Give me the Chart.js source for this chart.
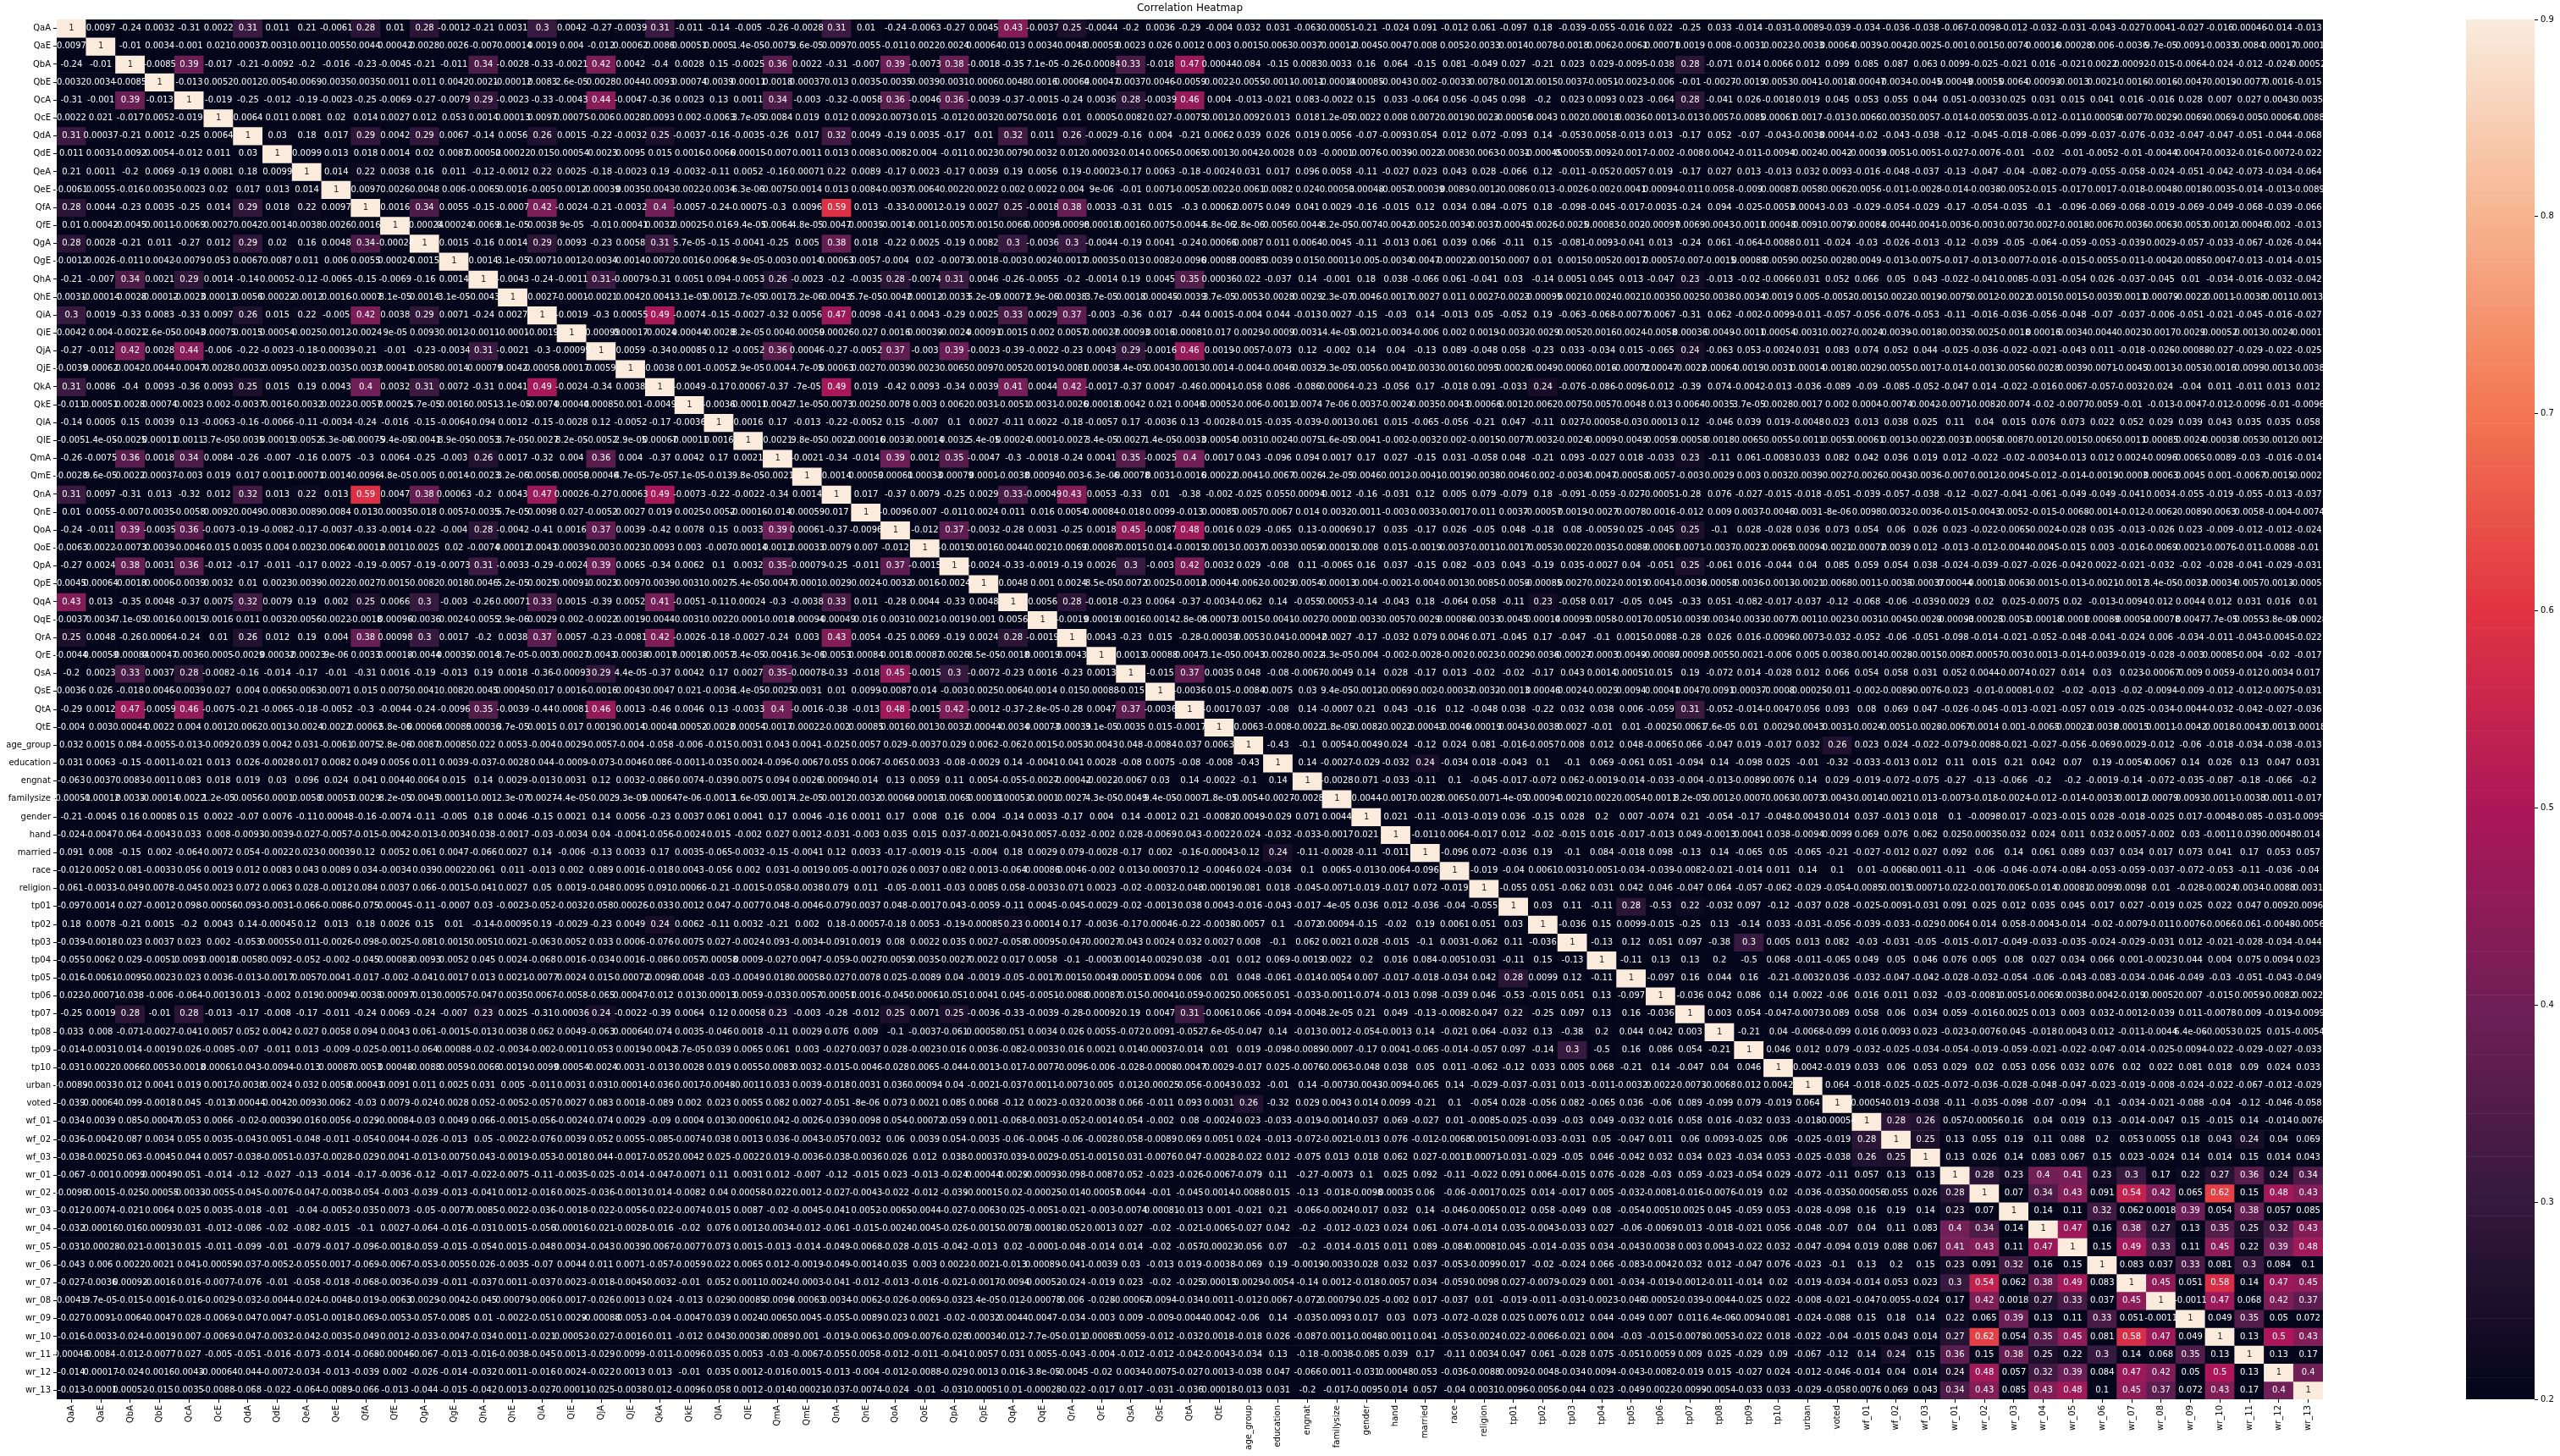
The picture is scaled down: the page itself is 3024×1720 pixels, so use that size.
<!DOCTYPE html>
<html>
<head>
<meta charset="utf-8">
<title>Correlation Heatmap</title>
<script src="https://cdn.jsdelivr.net/npm/chart.js@4"></script>
<style>
  html, body { margin: 0; background: #fff; }
  canvas { position: absolute; top: 0; display: block; }
  #heat { left: 0; }
  #cbar { left: 2900px; }
</style>
</head>
<body>
<canvas id="heat" width="3024" height="1720"></canvas>
<canvas id="cbar" width="124" height="1720"></canvas>
<script>
const questions = ["QaA","QaE","QbA","QbE","QcA","QcE","QdA","QdE","QeA","QeE","QfA","QfE","QgA","QgE","QhA","QhE","QiA","QiE","QjA","QjE","QkA","QkE","QlA","QlE","QmA","QmE","QnA","QnE","QoA","QoE","QpA","QpE","QqA","QqE","QrA","QrE","QsA","QsE","QtA","QtE"];
const demographics = ["age_group","education","engnat","familysize","gender","hand","married","race","religion"];
const tipi = ["tp01","tp02","tp03","tp04","tp05","tp06","tp07","tp08","tp09","tp10"];
const other = ["urban","voted"];
const wordsFake = ["wf_01","wf_02","wf_03"];
const wordsReal = ["wr_01","wr_02","wr_03","wr_04","wr_05","wr_06","wr_07","wr_08","wr_09","wr_10","wr_11","wr_12","wr_13"];
const labels = [...questions, ...demographics, ...tipi, ...other, ...wordsFake, ...wordsReal];

// upper triangle of the matrix, one array per row, starting right of the diagonal
const r00 = [0.0097,-0.24,0.0032,-0.31,0.0022,0.31,0.011,0.21,-0.0061,0.28,0.01,0.28,-0.0012,-0.21,0.0031,0.3,0.0042,
  -0.27,-0.0039,0.31,-0.011,-0.14,-0.005,-0.26,-0.0028,0.31,0.01,-0.24,-0.0063,-0.27,0.0045,0.43,-0.0037,0.25,-0.0044,-0.2,0.0036,-0.29,-0.004,
  0.032,0.031,-0.063,-0.00051,-0.21,-0.024,0.091,-0.012,0.061,-0.097,0.18,-0.039,-0.055,-0.016,0.022,-0.25,0.033,-0.014,-0.031,
  -0.0089,-0.039,-0.034,-0.036,-0.038,-0.067,-0.0098,-0.012,-0.032,-0.031,-0.043,-0.027,0.0041,-0.027,-0.016,0.00046,-0.014,-0.013];
const r01 = [-0.01,0.0034,-0.001,0.021,0.00037,0.0031,0.0011,0.0055,0.0044,0.00042,0.0028,0.0026,-0.007,-0.00014,0.0019,0.004,
  -0.012,0.00062,0.0086,0.00051,0.0005,1.4e-05,-0.0075,9.6e-05,0.0097,0.0055,-0.011,0.0022,0.0024,0.00064,0.013,0.0034,0.0048,0.00059,0.0023,0.026,0.0012,0.003,
  0.0015,0.0063,0.0037,-0.00012,-0.0045,-0.0047,0.008,0.0052,-0.0033,0.0014,0.0078,-0.0018,0.0062,-0.0061,-0.00071,0.0019,0.008,-0.0031,0.0022,
  -0.0033,0.00064,0.0039,-0.0042,-0.0025,-0.001,0.0015,0.0074,0.00016,-0.00028,0.006,-0.0036,9.7e-05,0.0091,-0.0033,0.0084,0.00017,-0.0001];
const r02 = [-0.0085,0.39,-0.017,-0.21,-0.0092,-0.2,-0.016,-0.23,-0.0045,-0.21,-0.011,0.34,-0.0028,-0.33,-0.0021,
  0.42,0.0042,-0.4,0.0028,0.15,-0.0025,0.36,0.0022,-0.31,-0.007,0.39,-0.0073,0.38,-0.0018,-0.35,7.1e-05,-0.26,-0.00084,0.33,-0.018,0.47,0.00044,
  0.084,-0.15,0.0083,0.0033,0.16,0.064,-0.15,0.081,-0.049,0.027,-0.21,0.023,0.029,-0.0095,-0.038,0.28,-0.071,0.014,0.0066,
  0.012,0.099,0.085,0.087,0.063,0.0099,-0.025,-0.021,0.016,-0.021,0.0022,0.00092,-0.015,-0.0064,-0.024,-0.012,-0.024,0.00052];
const r03 = [-0.013,0.0052,0.0012,0.0054,0.0069,0.0035,0.0035,0.0011,0.011,0.0042,0.0021,-0.00012,0.0083,2.6e-05,
  0.0028,0.0044,0.0093,0.00074,0.0039,0.00011,0.0018,0.00037,0.013,0.0035,-0.0035,0.0039,0.0031,0.0006,0.0048,0.0016,0.00064,0.00047,0.0037,0.0046,-0.0059,0.0022,
  -0.0055,-0.0011,-0.0011,-0.00014,0.00085,-0.0043,0.002,-0.0033,0.0078,-0.0012,0.0015,0.0037,-0.0051,-0.0023,-0.006,-0.01,-0.0027,-0.0019,0.0053,
  0.0041,-0.0018,-0.00047,0.0034,-0.0045,0.00049,-0.00055,0.0064,0.00093,-0.0013,0.0021,-0.0016,-0.0016,-0.0047,-0.0019,-0.0077,0.0016,-0.015];
const r04 = [-0.019,-0.25,-0.012,-0.19,-0.0023,-0.25,-0.0069,-0.27,-0.0079,0.29,-0.0023,-0.33,-0.0043,
  0.44,-0.0047,-0.36,0.0023,0.13,0.0011,0.34,-0.003,-0.32,-0.0058,0.36,-0.0046,0.36,-0.0039,-0.37,-0.0015,-0.24,0.0036,0.28,-0.0039,0.46,0.004,
  -0.013,-0.021,0.083,-0.0022,0.15,0.033,-0.064,0.056,-0.045,0.098,-0.2,0.023,0.0093,0.023,-0.064,0.28,-0.041,0.026,-0.0018,
  0.019,0.045,0.053,0.055,0.044,0.051,-0.0033,0.025,0.031,0.015,0.041,0.016,-0.016,0.028,0.007,0.027,0.0043,0.0035];
const r05 = [0.0064,0.011,0.0081,0.02,0.014,0.0027,0.012,0.053,0.0014,0.00013,0.0097,0.00075,
  -0.006,0.0028,0.0093,0.002,-0.0063,3.7e-05,0.0084,0.019,0.012,0.0092,-0.0073,0.015,-0.012,0.0032,0.0075,0.0016,0.01,0.0005,-0.0082,0.027,-0.0075,0.0012,
  -0.0092,0.013,0.018,1.2e-05,0.0022,0.008,0.0072,0.0019,0.0023,-0.00056,0.0043,0.002,0.00018,0.0036,-0.0013,-0.013,0.0057,-0.0085,0.00061,
  0.0017,-0.013,0.0066,0.0035,0.0057,-0.014,-0.0055,0.0035,-0.012,-0.011,-0.00059,-0.0077,-0.0029,-0.0069,-0.0069,-0.005,-0.00064,-0.0088];
const r06 = [0.03,0.18,0.017,0.29,0.0042,0.29,0.0067,-0.14,0.0056,0.26,0.0015,
  -0.22,-0.0032,0.25,-0.0037,-0.16,-0.0035,-0.26,0.017,0.32,0.0049,-0.19,0.0035,-0.17,0.01,0.32,0.011,0.26,-0.0029,-0.16,0.004,-0.21,0.0062,
  0.039,0.026,0.019,0.0056,-0.07,-0.0093,0.054,0.012,0.072,-0.093,0.14,-0.053,0.0058,-0.013,0.013,-0.17,0.052,-0.07,-0.043,
  -0.0038,0.00044,-0.02,-0.043,-0.038,-0.12,-0.045,-0.018,-0.086,-0.099,-0.037,-0.076,-0.032,-0.047,-0.047,-0.051,-0.044,-0.068];
const r07 = [0.0099,0.013,0.018,0.0014,0.02,0.0087,0.00052,0.00022,0.015,0.00054,
  -0.0023,0.0095,0.015,0.0016,-0.0066,0.00015,-0.007,0.0011,0.013,0.0083,-0.0082,0.004,-0.011,0.0023,0.0079,0.0032,0.012,0.00032,-0.014,0.0065,-0.0065,0.0013,
  0.0042,-0.0028,0.03,-0.0001,0.0076,-0.0039,-0.0022,0.0083,0.0063,-0.0031,-0.00045,0.00055,0.0092,-0.0017,-0.002,-0.008,0.0042,-0.011,-0.0094,
  0.0024,0.0042,-0.00039,0.0051,-0.0051,-0.027,-0.0076,-0.01,-0.02,-0.01,-0.0052,-0.01,-0.0044,0.0047,-0.0032,-0.016,-0.0072,-0.022];
const r08 = [0.014,0.22,0.0038,0.16,0.011,-0.12,-0.0012,0.22,0.0025,
  -0.18,-0.0023,0.19,-0.0032,-0.11,0.0052,-0.16,0.00071,0.22,0.0089,-0.17,0.0023,-0.17,0.0039,0.19,0.0056,0.19,-0.00023,-0.17,0.0063,-0.18,-0.0024,
  0.031,0.017,0.096,0.0058,-0.11,-0.027,0.023,0.043,0.028,-0.066,0.12,-0.011,-0.052,0.0057,0.019,-0.17,0.027,0.013,-0.013,
  0.032,0.0093,-0.016,-0.048,-0.037,-0.13,-0.047,-0.04,-0.082,-0.079,-0.055,-0.058,-0.024,-0.051,-0.042,-0.073,-0.034,-0.064];
const r09 = [0.0097,0.0026,0.0048,0.006,-0.0065,0.0016,-0.005,0.0012,
  -0.00039,0.0035,0.0043,0.0022,-0.0034,6.3e-06,0.0075,0.0014,0.013,0.0084,-0.0037,0.0064,0.0022,0.0022,0.002,0.0022,0.004,9e-06,-0.01,0.0071,-0.0052,0.0022,
  -0.0061,0.0082,0.024,0.00053,0.00048,-0.0057,-0.00039,0.0089,-0.0012,-0.0086,0.013,-0.0026,-0.002,0.0041,0.00094,-0.011,0.0058,-0.009,0.00087,
  0.0058,0.0062,0.0056,-0.011,-0.0028,-0.014,-0.0038,-0.0052,-0.015,-0.017,0.0017,-0.018,-0.0048,-0.0018,-0.0035,-0.014,-0.013,-0.0089];
const r10 = [0.0016,0.34,0.0055,-0.15,-0.0007,0.42,-0.0024,
  -0.21,-0.0032,0.4,-0.0057,-0.24,-0.00075,-0.3,0.0096,0.59,0.013,-0.33,-0.00012,-0.19,0.0027,0.25,-0.0018,0.38,0.0033,-0.31,0.015,-0.3,0.00062,
  0.0075,0.049,0.041,0.0029,-0.16,-0.015,0.12,0.034,0.084,-0.075,0.18,-0.098,-0.045,-0.017,-0.0035,-0.24,0.094,-0.025,-0.0053,
  0.00043,-0.03,-0.029,-0.054,-0.029,-0.17,-0.054,-0.035,-0.1,-0.096,-0.069,-0.068,-0.019,-0.069,-0.049,-0.068,-0.039,-0.066];
const r11 = [-0.00024,0.00024,-0.0069,8.1e-05,0.0038,9e-05,
  -0.01,0.00041,0.0032,0.00025,-0.016,-9.4e-05,0.0064,4.8e-05,0.0047,0.00035,-0.0014,0.0011,-0.0057,0.0015,0.0066,0.00096,0.00098,0.00018,0.0016,0.0075,-0.0044,5.8e-06,
  2.8e-06,0.0056,0.0044,8.2e-05,-0.0074,-0.0042,0.0052,-0.0034,0.0037,0.00045,0.0026,-0.0025,0.00083,-0.002,-0.00097,0.0069,0.0043,-0.0011,0.00048,
  0.0091,0.0079,-0.00084,0.0044,0.0041,-0.0036,-0.003,0.0073,0.0027,-0.0018,-0.0067,-0.0036,-0.0063,-0.0053,0.0012,-0.00046,0.002,-0.013];
const r12 = [0.0015,-0.16,0.0014,0.29,0.0093,
  -0.23,0.0058,0.31,5.7e-05,-0.15,-0.0041,-0.25,0.005,0.38,0.018,-0.22,0.0025,-0.19,0.0082,0.3,-0.0036,0.3,-0.0044,-0.19,0.0041,-0.24,0.00066,
  0.0087,0.011,0.0064,0.0045,-0.11,-0.013,0.061,0.039,0.066,-0.11,0.15,-0.081,-0.0093,-0.041,0.013,-0.24,0.061,-0.064,-0.0088,
  0.011,-0.024,-0.03,-0.026,-0.013,-0.12,-0.039,-0.05,-0.064,-0.059,-0.053,-0.039,0.0029,-0.057,-0.033,-0.067,-0.026,-0.044];
const r13 = [0.0014,3.1e-05,0.0071,0.0012,
  -0.0034,0.0014,0.0072,0.0016,-0.0064,8.9e-05,-0.003,0.0014,0.00063,0.0057,-0.004,0.02,-0.0073,0.0018,-0.003,0.0024,0.0017,0.00035,-0.013,0.0082,-0.0096,0.00085,
  0.00085,0.0039,0.015,0.00011,-0.005,-0.0034,0.0047,0.00022,-0.0015,-0.0007,0.01,0.0015,0.0052,0.0017,0.00057,-0.007,-0.0015,0.00088,0.0059,
  0.0025,0.0028,0.0049,-0.013,-0.0075,-0.017,-0.013,-0.0077,-0.016,-0.015,-0.0055,-0.011,-0.0042,-0.0085,-0.0047,-0.013,-0.014,-0.015];
const r14 = [-0.0043,-0.24,-0.0011,
  0.31,-0.00079,-0.31,0.0051,0.094,-0.0053,0.26,-0.0023,-0.2,-0.0035,0.28,-0.0074,0.31,0.0046,-0.26,-0.0055,-0.2,-0.0014,0.19,0.0045,0.35,0.00036,
  0.022,-0.037,0.14,-0.001,0.18,0.038,-0.066,0.061,-0.041,0.03,-0.14,0.0051,0.045,0.013,-0.047,0.23,-0.013,-0.02,-0.0066,
  0.031,0.052,0.066,0.05,0.043,-0.022,-0.041,0.0085,-0.031,-0.054,0.026,-0.037,-0.045,0.01,-0.034,-0.016,-0.032,-0.042];
const r15 = [0.0027,-0.0001,
  -0.0021,0.0042,0.0041,-3.1e-05,0.0012,3.7e-05,0.0017,3.2e-06,0.0043,5.7e-05,-0.0042,0.00012,-0.0033,5.2e-05,0.00071,2.9e-06,0.0038,3.7e-05,0.0018,0.00045,-0.0039,3.7e-05,
  0.0053,-0.0028,0.0029,2.3e-07,0.0046,-0.0017,0.0027,0.011,0.0027,-0.0023,-0.00095,0.0021,0.0024,0.0021,0.0035,0.0025,0.0038,-0.0034,0.0019,
  0.005,-0.0052,-0.0015,-0.0022,-0.0019,-0.0075,0.0012,-0.0022,0.0015,0.0015,-0.0035,0.0011,0.00079,-0.0022,0.0011,-0.0038,0.0011,0.0013];
const r16 = [-0.0019,
  -0.3,0.00055,0.49,-0.0074,-0.15,-0.0027,-0.32,0.0056,0.47,0.0098,-0.41,0.0043,-0.29,0.0025,0.33,0.0029,0.37,-0.003,-0.36,0.017,-0.44,0.0015,
  -0.004,0.044,-0.013,0.0027,-0.15,-0.03,0.14,-0.013,0.05,-0.052,0.19,-0.063,-0.068,-0.0077,0.0067,-0.31,0.062,-0.002,-0.0099,
  -0.011,-0.057,-0.056,-0.076,-0.053,-0.11,-0.016,-0.036,-0.056,-0.048,-0.07,-0.037,-0.006,-0.051,-0.021,-0.045,-0.016,-0.027];
const r17 = [-0.00099,0.00017,-0.0024,0.00044,-0.0028,8.2e-05,0.004,0.00059,0.00026,0.027,0.0016,0.00039,-0.0024,0.00091,0.0015,0.002,0.0057,0.00027,-0.00093,0.0016,0.00081,0.017,
  0.0029,-0.0009,0.0031,-4.4e-05,0.0021,-0.0034,-0.006,0.002,0.0019,-0.0032,-0.0029,0.0052,0.0016,0.0024,-0.0058,0.00036,0.0049,-0.0011,0.00054,
  0.0031,0.0027,-0.0024,0.0039,-0.0018,-0.0035,0.0025,-0.0018,0.00016,0.0034,0.0044,0.0023,0.0017,0.0029,0.00052,0.0013,0.0024,-0.00011];
const r18 = [0.0059,-0.34,0.00085,0.12,-0.0052,0.36,0.00046,-0.27,-0.0052,0.37,-0.003,0.39,-0.0023,-0.39,-0.0022,-0.23,0.0043,0.29,-0.0016,0.46,0.0019,
  -0.0057,-0.073,0.12,-0.002,0.14,0.04,-0.13,0.089,-0.048,0.058,-0.23,0.033,-0.034,0.015,-0.065,0.24,-0.063,0.053,-0.0024,
  0.031,0.083,0.074,0.052,0.044,-0.025,-0.036,-0.022,-0.021,-0.043,0.011,-0.018,-0.026,-0.00088,-0.027,-0.029,-0.022,-0.025];
const r19 = [0.0038,0.001,-0.0052,2.9e-05,0.004,4.7e-05,0.00063,0.0027,0.0039,0.0023,0.0065,0.0097,0.0052,0.0019,-0.0081,0.00038,4.4e-05,0.0043,0.0013,0.0014,
  -0.004,-0.0046,0.0032,9.3e-05,0.0056,-0.0041,0.0033,0.0016,0.0095,0.00026,0.0049,0.0006,0.0016,-0.00072,0.00047,-0.0022,0.00064,0.0019,0.0031,
  0.00014,0.0018,0.0029,0.0055,-0.0017,-0.014,-0.0013,-0.0056,-0.0028,0.0039,0.0071,-0.0045,0.0013,-0.0053,-0.0016,0.0099,0.0013,-0.0038];
const r20 = [-0.0049,-0.17,0.00067,-0.37,-7e-05,0.49,0.019,-0.42,0.0093,-0.34,0.0039,0.41,0.0044,0.42,-0.0017,-0.37,0.0047,-0.46,0.00041,
  -0.058,0.086,-0.086,0.00064,-0.23,-0.056,0.17,-0.018,0.091,-0.033,0.24,-0.076,-0.086,-0.0096,-0.012,-0.39,0.074,-0.0042,-0.013,
  -0.036,-0.089,-0.09,-0.085,-0.052,-0.047,0.014,-0.022,-0.016,0.0067,-0.057,-0.0032,0.024,-0.04,0.011,-0.011,0.013,0.012];
const r21 = [-0.0036,-0.00011,0.0042,7.1e-05,-0.0073,0.0025,0.0078,0.003,0.0062,0.0031,-0.0051,0.0031,-0.0026,0.00018,0.0042,0.021,0.0046,0.00052,
  -0.006,-0.0011,0.0074,7e-06,0.0037,-0.0024,0.0035,0.0043,0.00066,0.0012,0.0062,0.0075,0.0057,0.0048,0.013,0.0064,0.0035,3.7e-05,0.0028,
  0.0017,0.002,0.0004,-0.0074,0.0042,-0.0071,-0.0082,-0.0074,-0.02,-0.0077,-0.0059,-0.01,-0.013,-0.0047,-0.012,-0.0096,-0.01,-0.0096];
const r22 = [0.0016,0.17,-0.013,-0.22,-0.0052,0.15,-0.007,0.1,0.0027,-0.11,0.0022,-0.18,-0.0057,0.17,-0.0036,0.13,-0.0028,
  -0.015,-0.035,-0.039,-0.0013,0.061,0.015,-0.065,-0.056,-0.21,0.047,-0.11,0.027,-0.00058,-0.03,0.00013,0.12,-0.046,0.039,0.019,
  -0.0048,0.023,0.013,0.038,0.025,0.11,0.04,0.015,0.076,0.073,0.022,0.052,0.029,0.039,0.043,0.035,0.035,0.058];
const r23 = [0.0021,9.8e-05,-0.0022,-0.00016,0.0033,-0.00014,0.0032,5.4e-05,0.00024,0.0001,-0.0027,3.4e-05,0.0027,1.4e-05,-0.0033,0.00054,
  0.0031,0.0024,0.0075,1.6e-05,0.0041,-0.002,-0.0032,0.002,-0.0015,-0.0077,0.0032,-0.0024,0.0009,-0.0049,0.0059,0.00058,0.0018,0.0065,0.0055,
  -0.0011,0.0055,0.00061,0.0013,-0.0022,0.0031,0.00058,0.0087,0.0012,0.0015,0.0065,0.0011,0.00085,0.0024,0.00038,0.0053,0.0012,0.0012];
const r24 = [-0.0021,-0.34,-0.014,0.39,0.0012,0.35,-0.0047,-0.3,-0.0018,-0.24,0.0041,0.35,-0.0025,0.4,0.0017,
  0.043,-0.096,0.094,0.0017,0.17,0.027,-0.15,0.031,-0.058,0.048,-0.21,0.093,-0.027,0.018,-0.033,0.23,-0.11,0.061,-0.0083,
  0.033,0.082,0.042,0.036,0.019,0.012,-0.022,-0.02,-0.0034,-0.013,0.012,0.0024,-0.0096,0.0065,-0.0089,-0.03,-0.016,-0.014];
const r25 = [0.0014,0.00059,0.00061,0.00033,-0.00079,0.0001,-0.0038,0.00094,0.003,-6.3e-06,-0.00078,0.0031,-0.0016,0.00022,
  0.0041,-0.0067,0.0026,4.2e-05,0.0046,0.0012,-0.0041,-0.0019,-0.0038,-0.0046,0.002,-0.0034,0.0047,0.00058,0.0057,-0.003,0.0029,0.003,0.0032,
  0.0039,0.0027,-0.0026,-0.0043,-0.0036,-0.007,0.0012,-0.0045,-0.012,-0.014,-0.0019,-0.0003,0.00063,0.0045,0.001,-0.0067,0.0015,-0.00021];
const r26 = [0.017,-0.37,0.0079,-0.25,0.0029,0.33,-0.00049,0.43,0.0053,-0.33,0.01,-0.38,-0.002,
  -0.025,0.055,0.00094,0.0012,-0.16,-0.031,0.12,0.005,0.079,-0.079,0.18,-0.091,-0.059,-0.027,-0.00051,-0.28,0.076,-0.027,-0.015,
  -0.018,-0.051,-0.039,-0.057,-0.038,-0.12,-0.027,-0.041,-0.061,-0.049,-0.049,-0.041,0.0034,-0.055,-0.019,-0.055,-0.013,-0.037];
const r27 = [-0.0096,0.007,-0.011,0.0024,0.011,0.016,0.0054,0.00084,-0.018,0.0099,-0.013,0.00085,
  0.0057,0.0067,0.014,0.0032,0.0011,-0.003,0.0033,-0.0017,0.011,0.0037,-0.00057,0.0019,-0.0027,0.0078,0.0016,-0.012,0.009,0.0037,-0.0046,
  0.0031,-8e-06,0.0098,0.0032,-0.0036,-0.015,-0.0043,0.0052,-0.015,-0.0068,-0.0014,-0.012,-0.0062,-0.0089,-0.0063,0.0058,-0.004,-0.0074];
const r28 = [-0.012,0.37,-0.0032,-0.28,0.0031,-0.25,0.0018,0.45,-0.0087,0.48,0.0016,
  0.029,-0.065,0.13,-0.00069,0.17,0.035,-0.17,0.026,-0.05,0.048,-0.18,0.08,-0.0059,0.025,-0.045,0.25,-0.1,0.028,-0.028,
  0.036,0.073,0.054,0.06,0.026,0.023,-0.022,-0.0065,-0.0024,-0.028,0.035,-0.013,-0.026,0.023,-0.009,-0.012,-0.012,-0.024];
const r29 = [-0.0015,0.0016,0.0044,0.0021,0.0069,0.00087,-0.0015,0.014,-0.0015,0.0013,
  -0.0037,0.0033,0.0059,-0.00015,0.008,0.015,-0.0019,0.0037,-0.0011,-0.0017,0.0053,0.0022,0.0035,-0.0089,-0.00061,0.0071,-0.0037,-0.0023,0.0065,
  0.00094,0.0021,-0.00072,0.0039,0.012,-0.013,-0.012,-0.0044,-0.0045,-0.015,0.003,-0.016,-0.0069,0.0021,-0.0076,-0.011,-0.0088,-0.01];
const r30 = [-0.0024,-0.33,-0.0019,-0.19,0.0026,0.3,-0.003,0.42,0.0032,
  0.029,-0.08,0.11,-0.0065,0.16,0.037,-0.15,0.082,-0.03,0.043,-0.19,0.035,-0.0027,0.04,-0.051,0.25,-0.061,0.016,-0.044,
  0.04,0.085,0.059,0.054,0.038,-0.024,-0.039,-0.027,-0.026,-0.042,0.0022,-0.021,-0.032,-0.02,-0.028,-0.041,-0.029,-0.031];
const r31 = [0.0048,0.001,0.0024,8.5e-05,-0.0072,0.0025,-0.0012,0.00044,
  0.0062,-0.0029,0.0054,-0.00013,0.004,-0.0021,-0.004,0.0013,0.0085,-0.0059,-0.00085,0.0027,0.0022,-0.0019,0.0041,-0.0036,0.00058,0.0036,-0.0013,
  -0.0021,0.0068,0.0011,-0.0035,-0.00037,0.00044,-0.00015,-0.0063,-0.0015,-0.013,-0.0021,-0.0017,3.4e-05,-0.0032,0.00034,0.0057,0.0013,-0.00051];
const r32 = [0.0056,0.28,-0.0018,-0.23,0.0064,-0.37,-0.0034,
  -0.062,0.14,-0.055,0.00053,-0.14,-0.043,0.18,-0.064,0.058,-0.11,0.23,-0.058,0.017,-0.05,0.045,-0.33,0.051,-0.082,-0.017,
  -0.037,-0.12,-0.068,-0.06,-0.039,0.0029,0.02,0.025,-0.0075,0.02,-0.013,-0.0094,0.012,0.0044,0.012,0.031,0.016,0.01];
const r33 = [-0.0019,0.00019,0.0016,0.0014,-2.8e-05,0.00073,
  0.0015,-0.0041,-0.0027,-0.0001,0.0033,0.0057,0.0029,0.00086,-0.0033,0.0045,0.00014,0.00095,0.0058,-0.0017,-0.0051,-0.0039,0.0034,-0.0033,-0.0077,
  0.0011,0.0023,-0.0031,-0.0045,-0.0029,-0.00093,-0.00025,-0.0051,-0.00018,-0.0001,0.00089,-0.00052,-0.00078,0.0047,-7.7e-05,0.0055,-3.8e-05,-0.00028];
const r34 = [0.0043,-0.23,0.015,-0.28,-0.00039,
  -0.0053,0.041,-0.00042,0.0027,-0.17,-0.032,0.079,0.0046,0.071,-0.045,0.17,-0.047,-0.1,0.0015,-0.0088,-0.28,0.026,0.016,-0.0096,
  -0.0073,-0.032,-0.052,-0.06,-0.051,-0.098,-0.014,-0.021,-0.052,-0.048,-0.041,-0.024,0.006,-0.034,-0.011,-0.043,-0.0045,-0.022];
const r35 = [0.0013,0.00088,0.0047,3.1e-05,
  -0.0043,0.0028,-0.0022,4.3e-05,0.004,-0.002,-0.0028,-0.002,0.0023,-0.0029,-0.0036,-0.00027,-0.0003,0.0049,-0.00087,-0.00092,0.0055,0.0021,-0.006,
  0.005,0.0038,-0.0014,-0.0028,-0.0015,-0.0087,-0.00057,-0.003,0.0013,-0.014,-0.0039,-0.019,-0.028,-0.003,0.00085,-0.004,-0.02,-0.017];
const r36 = [-0.015,0.37,0.0035,
  0.048,-0.08,-0.0067,-0.0049,0.14,0.028,-0.17,0.013,-0.02,-0.02,-0.17,0.043,0.0014,0.00051,0.015,0.19,-0.072,0.014,-0.028,
  0.012,0.066,0.054,0.058,0.031,0.052,0.0044,-0.0074,0.027,0.014,0.03,0.023,-0.00067,0.009,0.0059,-0.012,0.0034,0.017];
const r37 = [-0.0036,0.015,
  -0.0084,0.0075,0.03,9.4e-05,-0.0012,-0.0069,0.002,-0.00037,-0.0032,-0.0013,0.00046,0.0024,-0.0029,0.0094,-0.00041,0.0047,0.0091,0.00037,-0.0008,
  -0.00025,-0.011,-0.002,-0.0089,-0.0076,-0.023,-0.01,-0.00081,-0.02,-0.02,-0.013,-0.02,-0.0094,-0.009,-0.012,-0.012,-0.0075,-0.031];
const r38 = [-0.0017,
  0.037,-0.08,0.14,-0.0007,0.21,0.043,-0.16,0.12,-0.048,0.038,-0.22,0.032,0.038,0.006,-0.059,0.31,-0.052,-0.014,-0.0047,
  0.056,0.093,0.08,0.069,0.047,-0.026,-0.045,-0.013,-0.021,-0.057,0.019,-0.025,-0.034,-0.0044,-0.032,-0.042,-0.027,-0.036];
const r39 = [0.0063,-0.008,-0.0022,-1.8e-05,-0.0082,-0.0022,-0.00043,-0.0046,0.00019,0.0043,-0.0038,0.0027,-0.01,0.01,-0.0025,-0.0061,7.6e-05,0.01,0.0029,
  -0.0043,0.0031,-0.0024,0.0051,-0.0028,-0.0067,0.0014,0.001,-0.0065,-0.00023,-0.0038,0.00015,0.0011,-0.0042,0.0018,-0.0043,0.0013,0.00018];
const r40 = [-0.43,-0.1,0.0054,-0.0049,0.024,-0.12,0.024,0.081,-0.016,-0.0057,0.008,0.012,0.048,-0.0065,0.066,-0.047,0.019,-0.017,
  0.032,0.26,0.023,0.024,-0.022,-0.079,-0.0088,-0.021,-0.027,-0.056,-0.069,0.0029,-0.012,-0.06,-0.018,-0.034,-0.038,-0.013];
const r41 = [0.14,-0.0027,-0.029,-0.032,0.24,-0.034,0.018,-0.043,0.1,-0.1,0.069,-0.061,0.051,-0.094,0.14,-0.098,0.025,
  -0.01,-0.32,-0.033,-0.013,0.012,0.11,0.015,0.21,0.042,0.07,0.19,-0.0054,0.0067,0.14,0.026,0.13,0.047,0.031];
const r42 = [-0.0028,0.071,-0.033,-0.11,0.1,-0.045,-0.017,-0.072,0.062,-0.0019,-0.014,-0.033,-0.004,-0.013,-0.0089,-0.0076,
  0.14,0.029,-0.019,-0.072,-0.075,-0.27,-0.13,-0.066,-0.2,-0.2,-0.0019,-0.14,-0.072,-0.035,-0.087,-0.18,-0.066,-0.2];
const r43 = [0.0044,-0.0017,-0.0028,0.0065,-0.0071,-4e-05,0.00094,0.0021,0.0022,0.0054,-0.0011,8.2e-05,0.0012,-0.0007,-0.0063,
  -0.0073,0.0043,-0.0014,-0.0021,0.013,-0.0073,-0.018,-0.0024,-0.012,-0.014,-0.0033,0.0012,0.00079,0.0093,0.0011,-0.0038,0.0011,-0.017];
const r44 = [0.021,-0.11,-0.013,-0.019,0.036,-0.15,0.028,0.2,0.007,-0.074,0.21,-0.054,-0.17,-0.048,
  -0.0043,0.014,0.037,-0.013,0.018,0.1,-0.0098,0.017,-0.023,-0.015,0.028,-0.018,-0.025,0.017,-0.0048,-0.085,-0.031,-0.0095];
const r45 = [-0.011,0.0064,-0.017,0.012,-0.02,-0.015,0.016,-0.017,-0.013,0.049,-0.0013,0.0041,0.038,
  -0.0094,0.0099,0.069,0.076,0.062,0.025,0.00035,0.032,0.024,0.011,0.032,0.0057,-0.002,0.03,-0.0011,0.039,0.00048,0.014];
const r46 = [-0.096,0.072,-0.036,0.19,-0.1,0.084,-0.018,0.098,-0.13,0.14,-0.065,0.05,
  -0.065,-0.21,-0.027,-0.012,0.027,0.092,0.06,0.14,0.061,0.089,0.037,0.034,0.017,0.073,0.041,0.17,0.053,0.057];
const r47 = [-0.019,-0.04,0.0061,0.0031,-0.0051,-0.034,-0.039,-0.0082,-0.021,-0.014,0.011,
  0.14,0.1,0.01,-0.0068,-0.0011,-0.11,-0.06,-0.046,-0.074,-0.084,-0.053,-0.059,-0.037,-0.072,-0.053,-0.11,-0.036,-0.04];
const r48 = [-0.055,0.051,-0.062,0.031,0.042,0.046,-0.047,0.064,-0.057,-0.062,
  -0.029,-0.054,-0.0085,0.0015,0.00071,-0.022,-0.0017,-0.0065,-0.014,0.00081,-0.0099,0.0098,0.01,-0.028,-0.0024,0.0034,-0.0088,0.0031];
const r49 = [0.03,0.11,-0.11,0.28,-0.53,0.22,-0.032,0.097,-0.12,
  -0.037,0.028,-0.025,-0.0091,-0.031,0.091,0.025,0.012,0.035,0.045,0.017,0.027,-0.019,0.025,0.022,0.047,0.0092,0.0096];
const r50 = [-0.036,0.15,0.0099,-0.015,-0.25,0.13,-0.14,0.033,
  -0.031,-0.056,-0.039,-0.033,-0.029,0.0064,0.014,0.058,-0.0043,-0.014,-0.02,-0.0079,-0.011,0.0076,-0.0066,0.061,-0.0048,-0.0056];
const r51 = [-0.13,0.12,0.051,0.097,-0.38,0.3,0.005,
  0.013,0.082,-0.03,-0.031,-0.05,-0.015,-0.017,-0.049,-0.033,-0.035,-0.024,-0.029,-0.031,0.012,-0.021,-0.028,-0.034,-0.044];
const r52 = [-0.11,0.13,0.13,0.2,-0.5,0.068,
  -0.011,-0.065,0.049,0.05,0.046,0.076,0.005,0.08,0.027,0.034,0.066,0.001,-0.0023,0.044,0.004,0.075,0.0094,0.023];
const r53 = [-0.097,0.16,0.044,0.16,-0.21,
  -0.0032,0.036,-0.032,-0.047,-0.042,-0.028,-0.032,-0.054,-0.06,-0.043,-0.083,-0.034,-0.046,-0.049,-0.03,-0.051,-0.043,-0.049];
const r54 = [-0.036,0.042,0.086,0.14,
  0.0022,-0.06,0.016,0.011,0.032,-0.03,-0.0081,0.0051,-0.0069,0.0038,-0.0042,-0.019,0.00052,0.007,-0.015,0.0059,-0.0082,0.0022];
const r55 = [0.003,0.054,-0.047,
  -0.0073,0.089,0.058,0.06,0.034,0.059,-0.016,0.0025,0.013,0.003,0.032,-0.0012,-0.039,0.011,-0.0078,0.009,-0.019,-0.0099];
const r56 = [-0.21,0.04,
  -0.0068,-0.099,0.016,0.0093,0.023,-0.023,-0.0076,0.045,-0.018,0.0043,0.012,-0.011,-0.0044,6.4e-06,-0.0053,0.025,0.015,-0.0054];
const r57 = [0.046,
  0.012,0.079,-0.032,-0.025,-0.034,-0.054,-0.019,-0.059,-0.021,-0.022,-0.047,-0.014,-0.025,-0.0094,-0.022,-0.029,-0.027,-0.033];
const r58 = [0.0042,-0.019,0.033,0.06,0.053,0.029,0.02,0.053,0.056,0.032,0.076,0.02,0.022,0.081,0.018,0.09,0.024,0.033];
const r59 = [0.064,-0.018,-0.025,-0.025,-0.072,-0.036,-0.028,-0.048,-0.047,-0.023,-0.019,-0.008,-0.024,-0.022,-0.067,-0.012,-0.029];
const r60 = [-0.00054,-0.019,-0.038,-0.11,-0.035,-0.098,-0.07,-0.094,-0.1,-0.034,-0.021,-0.088,-0.04,-0.12,-0.046,-0.058];
const r61 = [0.28,0.26,0.057,-0.00056,0.16,0.04,0.019,0.13,-0.014,-0.047,0.15,-0.015,0.14,-0.014,0.0076];
const r62 = [0.25,0.13,0.055,0.19,0.11,0.088,0.2,0.053,0.0055,0.18,0.043,0.24,0.04,0.069];
const r63 = [0.13,0.026,0.14,0.083,0.067,0.15,0.023,-0.024,0.14,0.014,0.15,0.014,0.043];
const r64 = [0.28,0.23,0.4,0.41,0.23,0.3,0.17,0.22,0.27,0.36,0.24,0.34];
const r65 = [0.07,0.34,0.43,0.091,0.54,0.42,0.065,0.62,0.15,0.48,0.43];
const r66 = [0.14,0.11,0.32,0.062,0.0018,0.39,0.054,0.38,0.057,0.085];
const r67 = [0.47,0.16,0.38,0.27,0.13,0.35,0.25,0.32,0.43];
const r68 = [0.15,0.49,0.33,0.11,0.45,0.22,0.39,0.48];
const r69 = [0.083,0.037,0.33,0.081,0.3,0.084,0.1];
const r70 = [0.45,0.051,0.58,0.14,0.47,0.45];
const r71 = [-0.0011,0.47,0.068,0.42,0.37];
const r72 = [0.049,0.35,0.05,0.072];
const r73 = [0.13,0.5,0.43];
const r74 = [0.13,0.17];
const r75 = [0.4];
const r76 = [];

const upperRows = [r00,r01,r02,r03,r04,r05,r06,r07,r08,r09,r10,r11,r12,r13,r14,r15,r16,r17,r18,r19,
  r20,r21,r22,r23,r24,r25,r26,r27,r28,r29,r30,r31,r32,r33,r34,r35,r36,r37,r38,r39,
  r40,r41,r42,r43,r44,r45,r46,r47,r48,r49,r50,r51,r52,r53,r54,r55,r56,r57,r58,r59,
  r60,r61,r62,r63,r64,r65,r66,r67,r68,r69,r70,r71,r72,r73,r74,r75,r76];

const colorbarTicks = [0.2,0.3,0.4,0.5,0.6,0.7,0.8,0.9];
const vmin = 0.2, vmax = 0.9;

// rocket colormap stops
const rocketStops = [[0,[3,5,26]],[1/7,[53,25,62]],[2/7,[112,31,87]],[3/7,[173,23,89]],[4/7,[225,51,66]],[5/7,[243,118,81]],[6/7,[246,180,143]],[1,[250,235,221]]];

function rocket(t) {
  t = Math.min(1, Math.max(0, t));
  let i = 0;
  while (i < rocketStops.length - 2 && t > rocketStops[i + 1][0]) i++;
  const [a, ca] = rocketStops[i], [b, cb] = rocketStops[i + 1];
  const f = (t - a) / (b - a);
  return ca.map((v, k) => Math.round(v + (cb[k] - v) * f));
}

function valueAt(r, c) {
  if (r === c) return 1;
  return r < c ? upperRows[r][c - r - 1] : upperRows[c][r - c - 1];
}

function cellRgb(v) { return rocket((v - vmin) / (vmax - vmin)); }
function css(rgb) { return `rgb(${rgb[0]},${rgb[1]},${rgb[2]})`; }

// same as matplotlib's .2g
function fmt(v) {
  if (v === undefined) return "";
  const exp = v === 0 ? 0 : Math.floor(Math.log10(Math.abs(Number(v.toPrecision(2)))));
  if (exp < -4) {
    const parts = v.toExponential(1).split("e");
    const mant = parts[0].replace(/\.0$/, "");
    const e = Math.abs(parseInt(parts[1]));
    return `${mant}e-${String(e).padStart(2, "0")}`;
  }
  return String(Number(v.toPrecision(2)));
}

const annotate = {
  id: "annotate",
  afterDatasetsDraw(chart) {
    const { ctx, scales: { x, y } } = chart;
    ctx.save();
    ctx.font = "10px 'DejaVu Sans'";
    ctx.textAlign = "center";
    ctx.textBaseline = "middle";
    labels.forEach((_, r) => {
      labels.forEach((name, c) => {
        const v = valueAt(r, c);
        const rgb = cellRgb(v);
        const lum = (0.2126 * rgb[0] + 0.7152 * rgb[1] + 0.0722 * rgb[2]) / 255;
        ctx.fillStyle = lum > 0.5 ? "#262626" : "#ffffff";
        ctx.fillText(fmt(v), x.getPixelForValue(c), y.getPixelForValue(r + 0.5));
      });
    });
    ctx.restore();
  }
};

new Chart(document.getElementById("heat"), {
  type: "bar",
  plugins: [annotate],
  data: {
    labels: labels,
    datasets: labels.map((_, r) => ({
      data: labels.map(() => [r, r + 1]),
      backgroundColor: labels.map((_, c) => css(cellRgb(valueAt(r, c)))),
      grouped: false,
      barPercentage: 1,
      categoryPercentage: 1,
      borderWidth: 0
    }))
  },
  options: {
    responsive: false,
    animation: false,
    devicePixelRatio: 1,
    layout: { padding: { right: 280, left: 0, bottom: 0, top: 0 } },
    plugins: {
      legend: { display: false },
      tooltip: { enabled: false },
      title: {
        display: true,
        text: "Correlation Heatmap",
        fullSize: false,
        color: "#000000",
        font: { family: "DejaVu Sans", size: 12, weight: "normal", lineHeight: 1.2 },
        padding: { top: 3, bottom: 5.6 }
      }
    },
    scales: {
      x: {
        offset: true,
        grid: { offset: false, drawOnChartArea: false, drawTicks: true, tickLength: 4, color: "#000000" },
        border: { display: false },
        ticks: { autoSkip: false, minRotation: 90, maxRotation: 90, padding: 3, color: "#000000", font: { family: "DejaVu Sans", size: 10 } },
        afterFit(scale) { scale.height = 67; }
      },
      y: {
        type: "linear",
        reverse: true,
        min: 0,
        max: labels.length,
        grid: { drawOnChartArea: false, drawTicks: true, tickLength: 4, color: "#000000" },
        border: { display: false },
        afterBuildTicks(scale) { scale.ticks = labels.map((_, i) => ({ value: i + 0.5 })); },
        ticks: {
          autoSkip: false,
          padding: 3,
          color: "#000000",
          font: { family: "DejaVu Sans", size: 10 },
          callback: value => labels[Math.floor(value)]
        },
        afterFit(scale) { scale.width = 67; }
      }
    }
  }
});

// colorbar, one thin floating bar per colour level
const barLevels = 256;
const barStep = (vmax - vmin) / barLevels;
new Chart(document.getElementById("cbar"), {
  type: "bar",
  data: {
    labels: [""],
    datasets: Array.from({ length: barLevels }, (_, i) => ({
      data: [[vmin + i * barStep, vmin + (i + 1) * barStep]],
      backgroundColor: css(rocket((i + 0.5) / barLevels)),
      grouped: false,
      barPercentage: 1,
      categoryPercentage: 1,
      borderWidth: 0
    }))
  },
  options: {
    responsive: false,
    animation: false,
    devicePixelRatio: 1,
    layout: { padding: { left: 13, top: 23, bottom: 67, right: 0 } },
    plugins: { legend: { display: false }, tooltip: { enabled: false } },
    scales: {
      x: { display: false },
      y: {
        position: "right",
        min: vmin,
        max: vmax,
        grid: { drawOnChartArea: false, drawTicks: true, tickLength: 4, color: "#000000" },
        border: { display: false },
        afterBuildTicks(scale) { scale.ticks = colorbarTicks.map(v => ({ value: v })); },
        ticks: { padding: 3, color: "#000000", font: { family: "DejaVu Sans", size: 10 }, callback: v => v.toFixed(1) },
        afterFit(scale) { scale.width = 30; }
      }
    }
  }
});

// row lengths have to fit the triangle, otherwise cells go blank
const badRows = upperRows.map((row, r) => row.length === labels.length - r - 1 ? null : r + ":" + row.length).filter(Boolean);
if (badRows.length) throw new Error("bad row lengths " + badRows.join(" "));
</script>
</body>
</html>
